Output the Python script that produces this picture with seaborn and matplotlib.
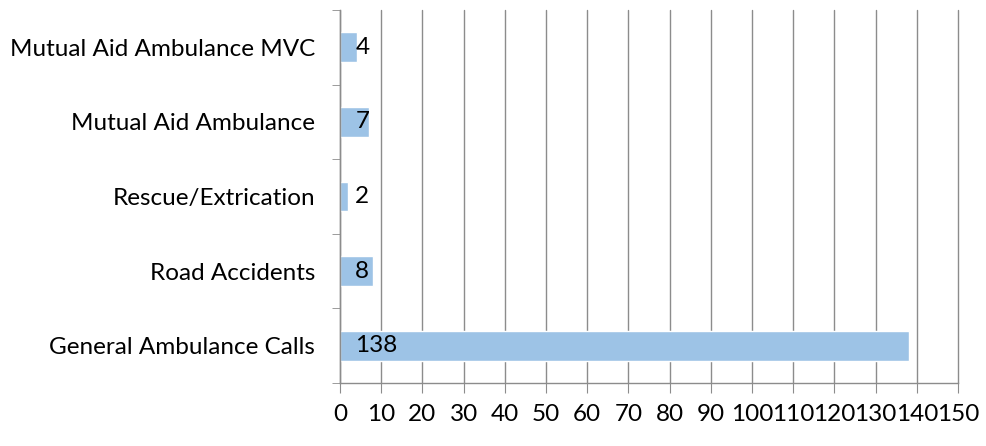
import numpy as np
import pandas as pd
import matplotlib
matplotlib.use('Agg')
import matplotlib.pyplot as plt
from matplotlib.ticker import FixedLocator
import seaborn as sns

categories = ['Mutual Aid Ambulance MVC', 'Mutual Aid Ambulance',
              'Rescue/Extrication', 'Road Accidents', 'General Ambulance Calls']
calls = [4, 7, 2, 8, 138]

df = pd.DataFrame({'Category': categories, 'Calls': calls})

sns.set_style('white')
plt.rcParams['font.family'] = ['Lato', 'DejaVu Sans']
plt.rcParams['text.color'] = 'black'
plt.rcParams['xtick.labelcolor'] = 'black'
plt.rcParams['ytick.labelcolor'] = 'black'
FS = 17.5

fig = plt.figure(figsize=(9.87, 4.46), dpi=100)
ax = fig.add_axes([0.3445, 0.1413, 0.6261, 0.8363])

sns.barplot(data=df, x='Calls', y='Category', orient='h', color='#9DC3E6',
            saturation=1, width=0.4, ax=ax)

# value labels near the base of each bar
for i, v in enumerate(calls):
    ax.annotate(str(v), xy=(0, i), xytext=(11, 0), textcoords='offset points',
                ha='left', va='center', fontsize=FS, color='black')

ax.set_xlim(0, 150)
ax.set_ylim(len(categories) - 0.5, -0.5)
ax.set_xticks(np.arange(0, 151, 10))
ax.xaxis.grid(True, color='#8c8c8c', linewidth=1)
for gl in ax.get_xgridlines():
    gl.set_clip_on(False)
ax.set_axisbelow(True)
ax.set_xlabel('')
ax.set_ylabel('')

ax.yaxis.set_minor_locator(FixedLocator(np.arange(-0.5, len(categories), 1)))
ax.tick_params(axis='y', which='major', length=0, pad=18, labelsize=FS)
ax.tick_params(axis='y', which='minor', length=6, color='#8c8c8c', left=True)
ax.tick_params(axis='x', which='major', length=7, color='#8c8c8c', bottom=True,
               labelsize=FS, pad=8)

for side in ['top', 'right']:
    ax.spines[side].set_visible(False)
for side in ['left', 'bottom']:
    ax.spines[side].set_color('#8c8c8c')
    ax.spines[side].set_linewidth(1)

fig.savefig('out.png', dpi=100)
